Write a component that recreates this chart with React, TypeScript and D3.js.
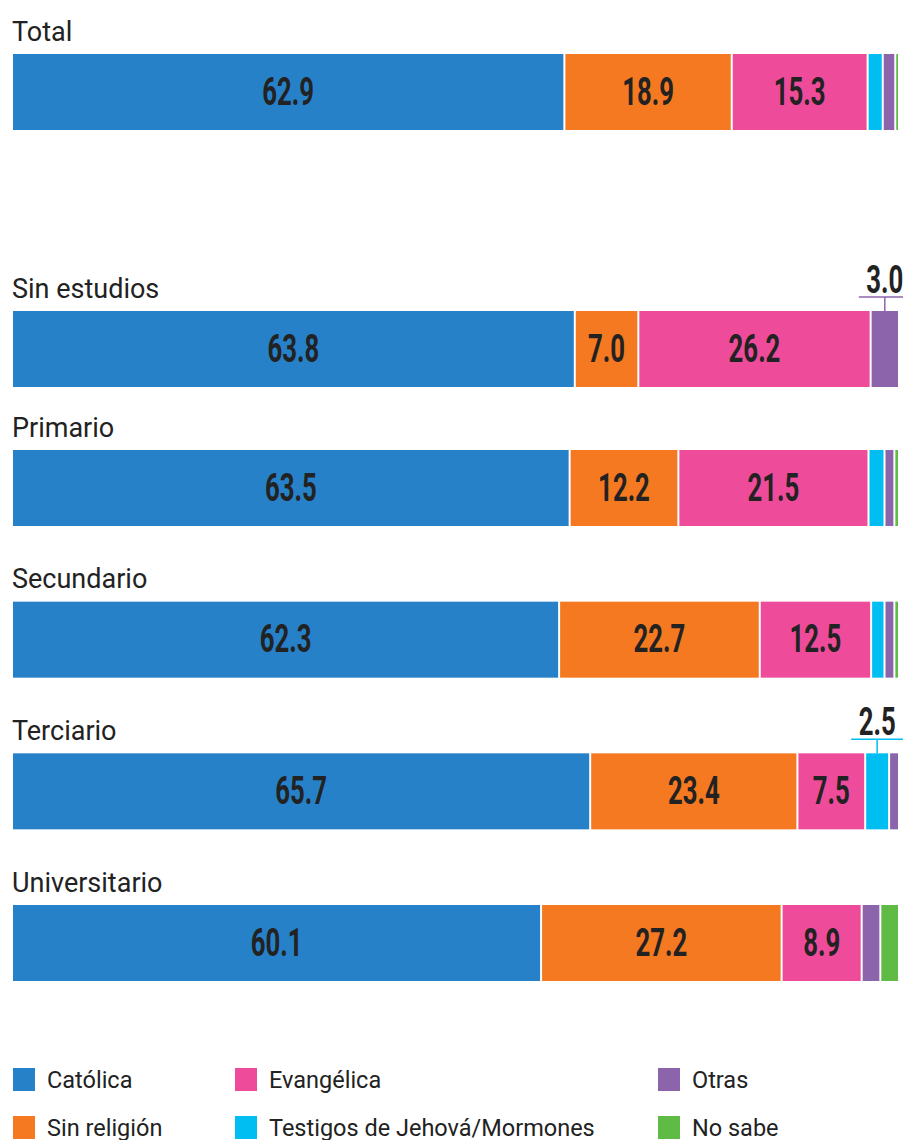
import React from 'react';
import * as d3 from 'd3';

// rows
const categories = ['Total', 'Sin estudios', 'Primario', 'Secundario', 'Terciario', 'Universitario'];

// series values (%)
const catolica = [62.9, 63.8, 63.5, 62.3, 65.7, 60.1];
const sinReligion = [18.9, 7.0, 12.2, 22.7, 23.4, 27.2];
const evangelica = [15.3, 26.2, 21.5, 12.5, 7.5, 8.9];
const testigos = [1.5, 0, 1.6, 1.3, 2.5, 0];
const otras = [1.2, 3.0, 0.9, 0.9, 0.9, 1.9];
const noSabe = [0.2, 0, 0.3, 0.3, 0, 1.9];

const seriesKeys = ['catolica', 'sinReligion', 'evangelica', 'testigos', 'otras', 'noSabe'];
const seriesNames = ['Católica', 'Sin religión', 'Evangélica', 'Testigos de Jehová/Mormones', 'Otras', 'No sabe'];
const seriesColors = ['#2681c8', '#f47920', '#ee4c9b', '#00bdf2', '#8b64ac', '#5fba46'];

// small segments labelled above the bar
const callouts = [
  { row: 'Sin estudios', key: 'otras' },
  { row: 'Terciario', key: 'testigos' },
];

const width = 903;
const height = 1140;
const barH = 76;
const gap = 2;
const left = 13;
const right = 898;
const totalTop = 54;
const sinEstudiosTop = 311;

const App = () => {
  const rows = categories.map((c, i) => ({
    cat: c,
    catolica: catolica[i],
    sinReligion: sinReligion[i],
    evangelica: evangelica[i],
    testigos: testigos[i],
    otras: otras[i],
    noSabe: noSabe[i],
  }));

  const stacked = d3.stack().keys(seriesKeys)(rows as any);

  // one scale per row, leaving white gaps between the segments
  const segCount = rows.map((r) => seriesKeys.filter((k) => r[k] > 0).length);
  const xRow = rows.map((r, i) =>
    d3.scaleLinear().domain([0, d3.sum(seriesKeys, (k) => r[k])]).range([left, right - (segCount[i] - 1) * gap])
  );
  const segIndex = (rowIdx, keyIdx) =>
    seriesKeys.slice(0, keyIdx).filter((k) => rows[rowIdx][k] > 0).length;
  const segX0 = (d, i, k) => xRow[i](d[0]) + segIndex(i, k) * gap;
  const segX1 = (d, i, k) => xRow[i](d[1]) + segIndex(i, k) * gap;

  // Total and Sin estudios sit apart, the rest are evenly spaced
  const yRest = d3.scalePoint().domain(categories.slice(2)).range([450, 905]);
  const yTop = (c) => (c === 'Total' ? totalTop : c === 'Sin estudios' ? sinEstudiosTop : yRest(c));

  const color = d3.scaleOrdinal().domain(seriesKeys).range(seriesColors);

  const legendX = d3.scaleOrdinal().domain(['0', '1', '2']).range([13, 235, 658]);
  const legendY = d3.scaleOrdinal().domain(['0', '1']).range([1068, 1116]);

  return (
    <svg width={width} height={height} style={{ display: 'block', position: 'absolute', left: 0, top: 0 }}>
      {categories.map((c) => (
        <text key={c} x={12} y={yTop(c) - 13.5} fontFamily="Roboto" fontSize={27} fill="#222">
          {c}
        </text>
      ))}

      {stacked.map((layer, k) => (
        <g key={layer.key} fill={color(layer.key) as string}>
          {layer.map((d, i) =>
            d[1] - d[0] > 0 ? (
              <rect
                key={i}
                x={segX0(d, i, k)}
                y={yTop(categories[i])}
                width={segX1(d, i, k) - segX0(d, i, k)}
                height={barH}
              />
            ) : null
          )}
        </g>
      ))}

      {stacked.map((layer, k) =>
        layer.map((d, i) => {
          const v = d[1] - d[0];
          if (v < 5) return null;
          const cx = (segX0(d, i, k) + segX1(d, i, k)) / 2;
          const cy = yTop(categories[i]) + barH / 2 + 12.5;
          return (
            <text
              key={layer.key + i}
              transform={`translate(${cx},${cy}) scale(0.66,1)`}
              textAnchor="middle"
              fontFamily="Roboto"
              fontWeight={700}
              fontSize={39}
              fill="#222"
            >
              {v.toFixed(1)}
            </text>
          );
        })
      )}

      {callouts.map((co) => {
        const k = seriesKeys.indexOf(co.key);
        const ri = categories.indexOf(co.row);
        const d = stacked[k][ri];
        const cx = (segX0(d, ri, k) + segX1(d, ri, k)) / 2;
        const top = yTop(co.row);
        const c = color(co.key) as string;
        return (
          <g key={co.row}>
            <line x1={cx - 26} x2={width} y1={top - 14} y2={top - 14} stroke={c} strokeWidth={1.5} />
            <line x1={cx} x2={cx} y1={top - 14} y2={top} stroke={c} strokeWidth={1.5} />
            <text
              transform={`translate(${cx},${top - 18}) scale(0.66,1)`}
              textAnchor="middle"
              fontFamily="Roboto"
              fontWeight={700}
              fontSize={39}
              fill="#222"
            >
              {(d[1] - d[0]).toFixed(1)}
            </text>
          </g>
        );
      })}

      {seriesNames.map((name, i) => {
        const col = String(Math.floor(i / 2));
        const row = String(i % 2);
        const lx = legendX(col) as number;
        const ly = legendY(row) as number;
        return (
          <g key={name}>
            <rect x={lx} y={ly} width={22} height={23} fill={seriesColors[i]} />
            <text x={lx + 34} y={ly + 20} fontFamily="Roboto" fontSize={23.5} fill="#222">
              {name}
            </text>
          </g>
        );
      })}
    </svg>
  );
};

export default App;
